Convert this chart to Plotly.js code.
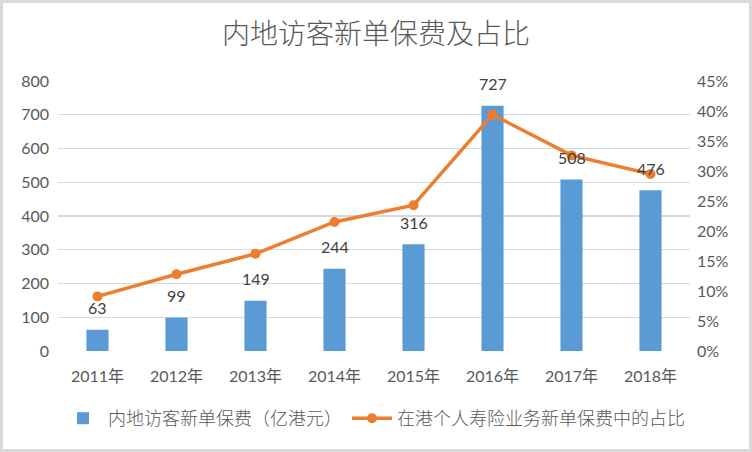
<!DOCTYPE html>
<html><head><meta charset="utf-8">
<script src="https://cdn.plot.ly/plotly-3.0.1.min.js"></script>
<style>
html,body{margin:0;padding:0;background:#fff;}
#wrap{width:746px;height:446px;border:3px solid #d9d9d9;}
#chart{width:746px;height:446px;}
</style></head>
<body><div id="wrap"><div id="chart"></div></div>
<script>
const categories = ["2011年","2012年","2013年","2014年","2015年","2016年","2017年","2018年"];
const premiums = [63, 99, 149, 244, 316, 727, 508, 476];
const shares = [0.091, 0.128, 0.162, 0.215, 0.243, 0.394, 0.326, 0.295];
const barName = "内地访客新单保费（亿港元）";
const lineName = "在港个人寿险业务新单保费中的占比";
const titleText = "内地访客新单保费及占比";

const font = "Lato, 'Noto Sans CJK SC', sans-serif";
const grey = "#595959";

const traces = [
  {type:"bar", x:categories, y:premiums, name:barName, marker:{color:"#5b9bd5"}, width:0.28, yaxis:"y", hoverinfo:"y"},
  {type:"scatter", mode:"lines+markers", x:categories, y:shares, name:lineName, yaxis:"y2",
   line:{color:"#ed7d31", width:3.5}, marker:{color:"#ed7d31", size:10}}
];

const annotations = categories.map((c,i)=>({
  x:c, y:premiums[i], xref:"x", yref:"y", text:String(premiums[i]), showarrow:false,
  yshift:22, font:{family:font, size:16, color:"#404040"}
}));

const layout = {
  width:746, height:446,
  margin:{l:55, r:59, t:78, b:96},
  paper_bgcolor:"#fff", plot_bgcolor:"#fff",
  title:{text:titleText, x:0.5, xanchor:"center", y:0.93, yanchor:"middle",
         font:{family:"'Noto Sans CJK SC', sans-serif", size:28, color:grey, weight:300}},
  font:{family:font, color:grey},
  xaxis:{type:"category", showgrid:false, showline:false, ticks:"", ticklabelstandoff:14,
         tickfont:{size:16, color:grey}},
  yaxis:{range:[0,800], dtick:100, showgrid:true, gridcolor:"#d9d9d9", gridwidth:1.3, zeroline:false,
         showline:false, ticks:"", ticklabelstandoff:8, tickfont:{size:16, color:grey}},
  yaxis2:{range:[0,0.45], dtick:0.05, tickformat:".0%", overlaying:"y", side:"right", showgrid:false,
          zeroline:false, showline:false, ticks:"", ticklabelstandoff:6, tickfont:{size:16, color:grey}},
  legend:{orientation:"h", x:0.5, xanchor:"center", y:-0.25, yanchor:"middle",
          font:{family:"'Noto Sans CJK SC', sans-serif", size:18, color:grey, weight:300}, traceorder:"normal",
          itemwidth:40},
  bargap:0.7,
  annotations:annotations,
  showlegend:true
};
Plotly.newPlot("chart", traces, layout, {displayModeBar:false, staticPlot:true});
</script></body></html>
